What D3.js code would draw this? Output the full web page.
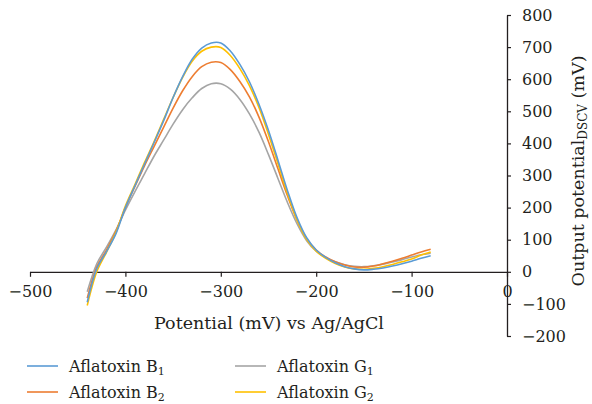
<!DOCTYPE html>
<html>
<head>
<meta charset="utf-8">
<script src="https://cdn.jsdelivr.net/npm/d3@7"></script>
<style>
body { margin: 0; background: #fff; }
svg text { font-family: "DejaVu Serif", "Liberation Serif", serif; fill: #231f20; }
</style>
</head>
<body>
<svg id="chart" width="592" height="404"></svg>
<script>
// potential (mV vs Ag/AgCl), one sample every 10 mV
var potential = [-440, -430, -420, -410, -400, -390, -380, -370, -360, -350, -340, -330, -320, -310, -300,
    -290, -280, -270, -260, -250, -240, -230, -220, -210, -200, -190, -180, -170, -160, -150,
    -140, -130, -120, -110, -100, -90, -80];

var aflaB1 = [-95, 10, 62, 118, 200, 268, 335, 402, 470, 543, 608, 662, 697, 713, 713,
    688, 646, 592, 522, 440, 347, 252, 168, 106, 68, 45, 28, 16, 9, 6,
    8, 12, 18, 25, 33, 42, 50];
var aflaB2 = [-82, 15, 67, 126, 200, 266, 330, 390, 450, 510, 564, 608, 639, 653, 652,
    630, 593, 545, 482, 405, 320, 236, 161, 103, 68, 46, 31, 21, 15, 14,
    18, 25, 33, 42, 52, 62, 70];
var aflaG1 = [-62, 25, 76, 130, 192, 250, 305, 360, 410, 460, 505, 542, 571, 586, 586,
    569, 537, 492, 435, 365, 290, 215, 149, 97, 64, 44, 31, 22, 17, 16,
    19, 24, 31, 38, 46, 53, 58];
var aflaG2 = [-105, 0, 60, 122, 205, 272, 340, 405, 474, 543, 606, 656, 687, 700, 699,
    674, 633, 580, 512, 428, 336, 243, 161, 101, 64, 42, 26, 15, 9, 8,
    11, 16, 23, 31, 40, 52, 62];

var xTicks = [-500, -400, -300, -200, -100, 0];
var yTicks = [-200, -100, 0, 100, 200, 300, 400, 500, 600, 700, 800];

var seriesList = [
    {name: "Aflatoxin B", sub: "1", values: aflaB1, color: "#5b9bd5"},
    {name: "Aflatoxin B", sub: "2", values: aflaB2, color: "#ed7d31"},
    {name: "Aflatoxin G", sub: "1", values: aflaG1, color: "#a5a5a5"},
    {name: "Aflatoxin G", sub: "2", values: aflaG2, color: "#ffc000"}
];
// drawing order: gray under, then orange, yellow, blue on top
var drawOrder = [2, 1, 3, 0];

var svg = d3.select("#chart");

var xScale = d3.scaleLinear().domain([-500, 0]).range([30, 507]);
var yScale = d3.scaleLinear().domain([-200, 800]).range([336, 15]);

// x axis sits on y = 0
svg.append("g")
    .attr("transform", "translate(0," + yScale(0) + ")")
    .call(d3.axisBottom(xScale).tickValues(xTicks).tickSize(5).tickSizeOuter(0).tickPadding(9))
    .call(function (g) {
        g.select(".domain").attr("stroke", "#231f20").attr("stroke-width", 1.3);
        g.selectAll(".tick line").attr("stroke", "#231f20").attr("stroke-width", 1.2);
        g.selectAll("text").attr("font-family", null).style("font-size", "16px");
    });

// y axis sits on x = 0
svg.append("g")
    .attr("transform", "translate(" + xScale(0) + ",0)")
    .call(d3.axisRight(yScale).tickValues(yTicks).tickSize(4).tickSizeOuter(0).tickPadding(11))
    .call(function (g) {
        g.select(".domain").attr("stroke", "#231f20").attr("stroke-width", 1.3);
        g.selectAll(".tick line").attr("stroke", "#231f20").attr("stroke-width", 1.2);
        g.selectAll("text").attr("font-family", null).style("font-size", "16px");
    });

var line = d3.line()
    .x(function (d, i) { return xScale(potential[i]); })
    .y(function (d) { return yScale(d); })
    .curve(d3.curveCatmullRom.alpha(0.5));

drawOrder.forEach(function (k) {
    svg.append("path")
        .datum(seriesList[k].values)
        .attr("fill", "none")
        .attr("stroke", seriesList[k].color)
        .attr("stroke-width", 1.6)
        .attr("d", line);
});

// axis titles
svg.append("text")
    .attr("x", 269)
    .attr("y", 329)
    .attr("text-anchor", "middle")
    .style("font-size", "17.5px")
    .text("Potential (mV) vs Ag/AgCl");

var yTitle = svg.append("text")
    .attr("transform", "translate(584,171) rotate(-90)")
    .attr("text-anchor", "middle")
    .style("font-size", "17.5px");
yTitle.append("tspan").text("Output potential");
yTitle.append("tspan").attr("dy", 3).style("font-size", "12px").text("DSCV");
yTitle.append("tspan").attr("dy", -3).text(" (mV)");

// legend, two columns
var legendPos = [[27, 366], [27, 392], [235, 366], [235, 392]];
seriesList.forEach(function (s, i) {
    var p = legendPos[i];
    svg.append("line")
        .attr("x1", p[0]).attr("x2", p[0] + 31)
        .attr("y1", p[1]).attr("y2", p[1])
        .attr("stroke", s.color)
        .attr("stroke-width", 1.6);
    var t = svg.append("text")
        .attr("x", p[0] + 42)
        .attr("y", p[1] + 6)
        .style("font-size", "16px");
    t.append("tspan").text(s.name);
    t.append("tspan").attr("dy", 3).style("font-size", "11px").text(s.sub);
});
</script>
</body>
</html>
